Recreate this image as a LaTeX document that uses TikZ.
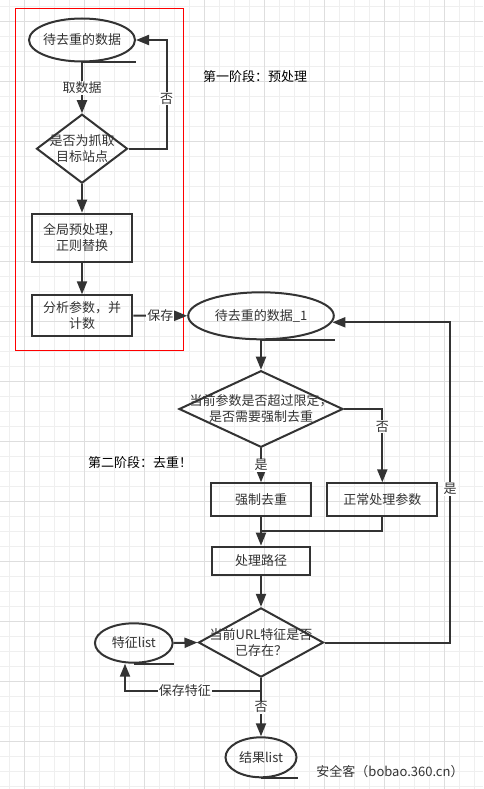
\documentclass[tikz,border=0pt]{standalone}
\usepackage{fontspec}
\setmainfont{Noto Sans CJK SC}
\usetikzlibrary{shapes.geometric,arrows.meta}
\definecolor{ink}{HTML}{333333}
\definecolor{gridminor}{HTML}{EFEFEF}
\definecolor{gridmajor}{HTML}{DEDEDE}

\begin{document}
\begin{tikzpicture}[
    x=1pt, y=-1pt,
    font=\fontsize{13}{16}\selectfont,
    darkline/.style={draw=ink, line width=2pt},
    store/.style={ellipse, darkline, inner sep=0pt},
    proc/.style={rectangle, darkline, text=ink, align=center, inner sep=0pt},
    decide/.style={diamond, darkline, inner sep=0pt},
    flow/.style={darkline, -{Triangle[length=13pt,width=10pt]}},
    lbl/.style={fill=white, text=ink, inner sep=1pt},
    stage/.style={text=black},
    every label/.style={text=ink, align=center}
  ]

  \useasboundingbox (0,0) rectangle (483,789);
  \fill[white] (0,0) rectangle (483,789);

  % background grid
  \foreach \gx in {9.3,24.3,...,483} \draw[gridminor, line width=1pt] (\gx,0) -- (\gx,789);
  \foreach \gy in {6.7,21.7,...,789} \draw[gridminor, line width=1pt] (0,\gy) -- (483,\gy);
  \foreach \gx in {24.3,84.3,...,483} \draw[gridmajor, line width=1pt] (\gx,0) -- (\gx,789);
  \foreach \gy in {21.7,81.7,...,789} \draw[gridmajor, line width=1pt] (0,\gy) -- (483,\gy);

  % stage one: preprocessing
  \draw[red, line width=1pt] (15.3,8.3) rectangle (183.3,350.3);
  \node[stage] (s1) at (255,77) {第一阶段：预处理};

  \node[store, minimum width=106, minimum height=43, label={center:待去重的数据}] (e1) at (82,40) {};
  \node[decide, minimum width=91, minimum height=69, label={center:是否为抓取\\目标站点}] (d1) at (82,148.7) {};
  \node[proc, minimum width=100.6, minimum height=48] (r1) at (82,237.7) {全局预处理，\\正则替换};
  \node[proc, minimum width=100.6, minimum height=40.7] (r2) at (82,315.7) {分析参数，并\\计数};

  \draw[flow] (e1.south) -- node[lbl] {取数据} (d1.north);
  \coordinate (k1) at (166.7,40);
  \draw[flow] (d1.east) -| node[lbl, pos=0.73] {否} (k1) -- (e1.east);
  \draw[flow] (d1.south) -- (r1.north);
  \draw[flow] (r1.south) -- (r2.north);

  % stage two: dedup
  \node[stage] (s2) at (140,463) {第二阶段：去重！};

  \node[store, minimum width=145.6, minimum height=47, label={center:待去重的数据\_1}] (e2) at (261,315.8) {};
  \node[decide, minimum width=164, minimum height=76.6, label={center:当前参数是否超过限定，\\是否需要强制去重}] (d2) at (261,409) {};
  \node[proc, minimum width=100.6, minimum height=32.7] (r3) at (261,499.7) {强制去重};
  \node[proc, minimum width=110, minimum height=32.7] (r4) at (382.3,499.7) {正常处理参数};
  \node[proc, minimum width=97.3, minimum height=28.3] (r5) at (261,560.8) {处理路径};
  \node[decide, minimum width=125, minimum height=69.3, label={center:当前URL特征是否\\已存在？}] (d3) at (261,642.5) {};
  \node[store, minimum width=77.7, minimum height=39.4, label={center:特征list}] (e3) at (133.8,643) {};
  \node[store, minimum width=71, minimum height=40, label={center:结果list}] (e4) at (261,757.3) {};

  \foreach \n in {e1,e2,e3,e4} \draw[darkline] (\n.south) -- (\n.south -| \n.east);

  \draw[flow] (r2.east) -- node[lbl] {保存} (e2.west);
  \draw[flow] (e2.south) -- (d2.north);
  \draw[flow] (d2.south) -- node[lbl] {是} (r3.north);
  \draw[flow] (d2.east) -| node[lbl, pos=0.62] {否} (r4.north);
  \draw[flow] (r3.south) -- (r5.north);
  \coordinate (k2) at (261,530.7);
  \draw[darkline] (r4.south) |- (k2);
  \draw[flow] (r5.south) -- (d3.north);
  \draw[flow] (e3.east) -- (d3.west);
  \coordinate (k3) at (125,690.7);
  \draw[flow] (d3.south) |- node[lbl, pos=0.78] {保存特征} (k3) -- (k3 |- e3.south);
  \draw[flow] (d3.south) -- node[lbl] {否} (e4.north);
  \coordinate (k4) at (450,322.3);
  \draw[flow] (d3.east) -| node[lbl, pos=0.74] {是} (k4) -- (k4 -| e2.-5.3);

  \node[text=ink] (mark) at (390,771.7) {安全客（bobao.360.cn）};

\end{tikzpicture}
\end{document}
